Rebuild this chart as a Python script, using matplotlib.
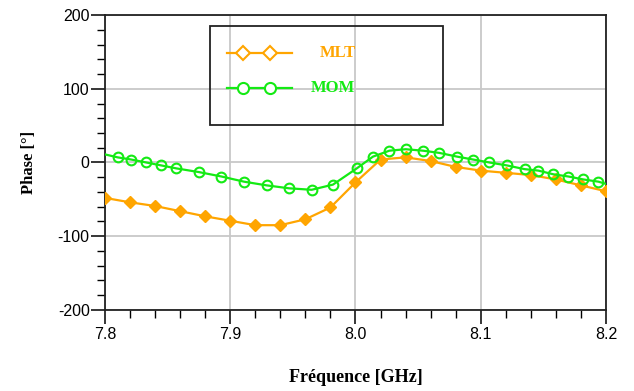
import matplotlib.pyplot as plt
from matplotlib.patches import Rectangle
from matplotlib.ticker import MultipleLocator

plt.rcParams['axes.unicode_minus'] = False

# MLT : pas régulier de 0.02 GHz
f_mlt = [7.80, 7.82, 7.84, 7.86, 7.88, 7.90, 7.92, 7.94, 7.96, 7.98, 8.00,
         8.02, 8.04, 8.06, 8.08, 8.10, 8.12, 8.14, 8.16, 8.18, 8.20]
phase_mlt = [-48, -54, -59, -66, -73, -79, -85, -85, -77, -61, -27,
             4, 7, 2, -6, -11, -14, -17, -23, -31, -39]

# MOM
f_mom = [7.800, 7.810, 7.821, 7.833, 7.845, 7.857, 7.875, 7.893, 7.911, 7.929,
         7.947, 7.965, 7.982, 8.001, 8.014, 8.027, 8.040, 8.054, 8.067, 8.081,
         8.094, 8.107, 8.121, 8.135, 8.146, 8.158, 8.170, 8.182, 8.194, 8.200]
phase_mom = [11, 7, 4, 0, -4, -8, -13, -19, -26, -31,
             -35, -37, -30, -8, 8, 16, 18, 16, 13, 8,
             4, 0, -4, -9, -11, -16, -19, -23, -26, -29]

c_mlt = '#FFA500'
c_mom = '#14EA14'

fig = plt.figure(figsize=(6.34, 3.91), dpi=100)
ax = fig.add_axes([0.1656, 0.2072, 0.7902, 0.7544])

ax.plot(f_mlt, phase_mlt, color=c_mlt, lw=1.6, marker='D', ms=6,
        mfc=c_mlt, mec=c_mlt, zorder=3)
ax.plot(f_mom, phase_mom, color=c_mom, lw=1.6, marker='o', ms=7,
        mfc='none', mec=c_mom, mew=1.5, markevery=list(range(1, len(f_mom) - 1)),
        zorder=4)

ax.set_xlim(7.8, 8.2)
ax.set_ylim(-200, 200)
ax.xaxis.set_minor_locator(MultipleLocator(0.02))
ax.yaxis.set_major_locator(MultipleLocator(100))
ax.yaxis.set_minor_locator(MultipleLocator(20))
ax.set_xticks([7.8, 7.9, 8.0, 8.1, 8.2])
ax.set_xticklabels(['7.8', '7.9', '8.0', '8.1', '8.2'])

ax.grid(True, which='major', color='#C8C8C8', lw=1.3)
ax.set_axisbelow(True)
for s in ax.spines.values():
    s.set_linewidth(1.3)
    s.set_color('#222222')

ax.tick_params(which='major', direction='out', length=10, width=1.1,
               labelsize=11.5, pad=2)
ax.tick_params(which='minor', direction='out', length=6, width=1.0)
ax.tick_params(axis='y', which='major', pad=1)
for lab in ax.get_xticklabels() + ax.get_yticklabels():
    lab.set_family(['Liberation Sans Narrow', 'Liberation Sans', 'DejaVu Sans'])

ax.set_xlabel('Fréquence [GHz]', family='Liberation Serif', fontweight='bold',
              fontsize=13, labelpad=20)
ax.set_ylabel('Phase [°]', family='Liberation Serif', fontweight='bold',
              fontsize=12, labelpad=15)

# légende dessinée à la main
tr = ax.transAxes
ax.add_patch(Rectangle((0.2096, 0.6256), 0.4651, 0.3387, transform=tr,
                       fill=False, ec='#222222', lw=1.3, zorder=5))
ax.plot([0.2435, 0.3733], [0.871, 0.871], color=c_mlt, lw=1.6, transform=tr,
        clip_on=False, zorder=6)
ax.plot([0.2754, 0.3293], [0.871, 0.871], ls='none', marker='D', ms=7,
        mfc='white', mec=c_mlt, mew=1.5, transform=tr, zorder=7)
ax.plot([0.2435, 0.3733], [0.7525, 0.7525], color=c_mom, lw=1.6, transform=tr,
        clip_on=False, zorder=6)
ax.plot([0.2754, 0.3293], [0.7525, 0.7525], ls='none', marker='o', ms=8,
        mfc='white', mec=c_mom, mew=1.5, transform=tr, zorder=7)
ax.text(0.465, 0.871, 'MLT', color=c_mlt, transform=tr, ha='center', va='center',
        family='Liberation Serif', fontweight='bold', fontsize=12)
ax.text(0.455, 0.7525, 'MOM', color=c_mom, transform=tr, ha='center', va='center',
        family='Liberation Serif', fontweight='bold', fontsize=12)

fig.savefig('out.png', dpi=100)
